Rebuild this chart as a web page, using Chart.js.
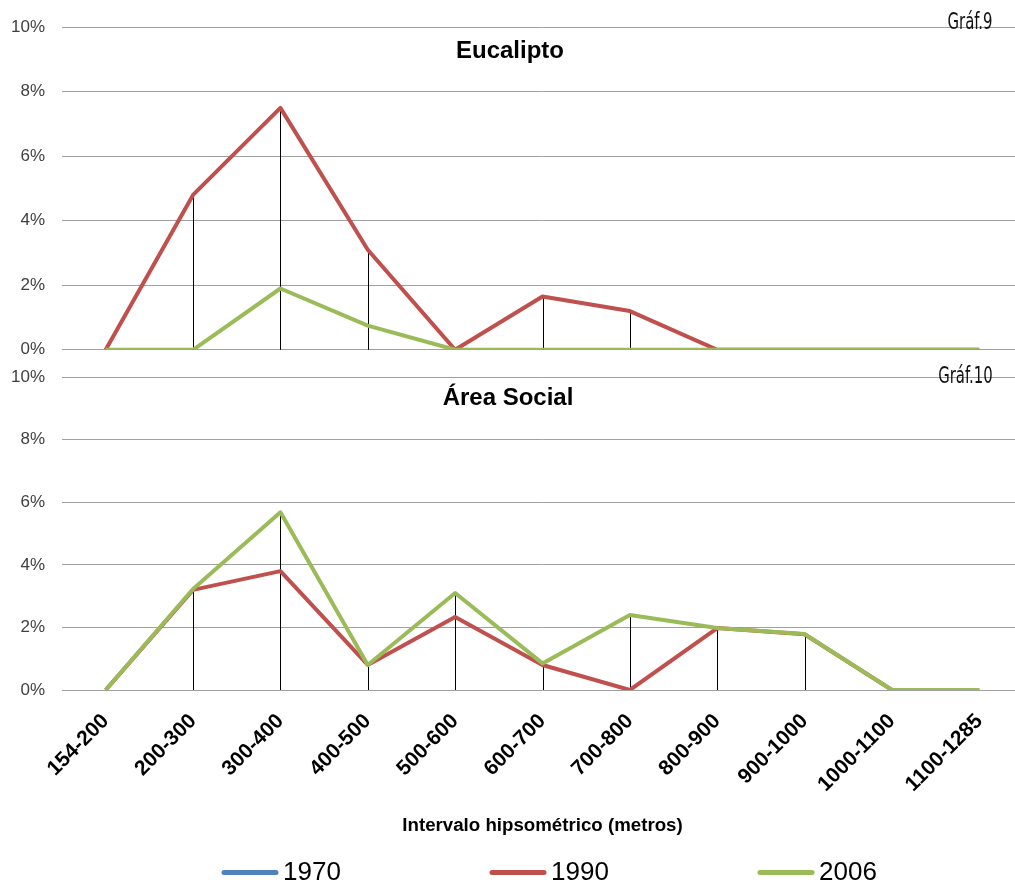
<!DOCTYPE html>
<html>
<head>
<meta charset="utf-8">
<script src="https://cdn.jsdelivr.net/npm/chart.js@4.4.1/dist/chart.umd.min.js"></script>
<style>
  html, body { margin: 0; padding: 0; background: #fff; overflow: hidden; width: 1015px; height: 885px; }
  #wrap { position: relative; width: 1015px; height: 885px; overflow: hidden; }
  canvas { position: absolute; left: 0; }
  #c1 { top: 0; }
  #c2 { top: 350px; }
  .tag {
    position: absolute; font-family: 'Liberation Sans Narrow', 'DejaVu Sans Condensed', sans-serif;
    font-size: 23px; color: #111; transform-origin: right top; transform: scaleX(0.72);
    white-space: nowrap; line-height: 1;
  }
</style>
</head>
<body>
<div id="wrap">
  <canvas id="c1" width="1025" height="377"></canvas>
  <canvas id="c2" width="1025" height="535"></canvas>
  <div class="tag" style="right:22px; top:10px;">Gráf.9</div>
  <div class="tag" style="right:22px; top:364px;">Gráf.10</div>
</div>
<script>
// Altitude classes (metres)
const intervals = ['154-200', '200-300', '300-400', '400-500', '500-600', '600-700',
                   '700-800', '800-900', '900-1000', '1000-1100', '1100-1285'];
const years = ['1970', '1990', '2006'];
const yTicks = [0, 2, 4, 6, 8, 10];

// Eucalipto: share of area (%) per altitude class
const euc1970 = [null, null, null, null, null, null, null, null, null, null, null];
const euc1990 = [0, 4.8, 7.5, 3.1, 0, 1.65, 1.2, 0, 0, 0, 0];
const euc2006 = [0, 0, 1.9, 0.75, 0, 0, 0, 0, 0, 0, 0];

// Área Social: share of area (%) per altitude class
const soc1970 = [null, null, null, null, null, null, null, null, null, null, null];
const soc1990 = [0, 3.2, 3.8, 0.8, 2.33, 0.8, 0, 1.98, 1.78, 0, 0];
const soc2006 = [0, 3.23, 5.68, 0.8, 3.1, 0.85, 2.4, 1.98, 1.79, 0, 0];

const colors = { '1970': '#4F81BD', '1990': '#C0504D', '2006': '#9BBB59' };
const FONT = "'Liberation Sans', Arial, sans-serif";

// Black drop lines from the highest value of each class down to the 0 baseline
const dropLines = {
  id: 'dropLines',
  beforeDatasetsDraw(chart) {
    const { ctx, scales: { x, y } } = chart;
    ctx.save();
    ctx.strokeStyle = '#000';
    ctx.lineWidth = 1;
    chart.data.labels.forEach((_, i) => {
      let top = null;
      chart.data.datasets.forEach(ds => {
        const v = ds.data[i];
        if (v !== null && v !== undefined && (top === null || v > top)) top = v;
      });
      if (top === null || top <= 0) return;
      const px = Math.round(x.getPixelForValue(i)) + 0.5;
      ctx.beginPath();
      ctx.moveTo(px, y.getPixelForValue(top));
      ctx.lineTo(px, y.getPixelForValue(0));
      ctx.stroke();
    });
    ctx.restore();
  }
};

// Bold title drawn inside the plot area, near its top
const innerTitle = {
  id: 'innerTitle',
  afterDatasetsDraw(chart, args, opts) {
    const { ctx, chartArea } = chart;
    ctx.save();
    ctx.font = 'bold 24px ' + FONT;
    ctx.fillStyle = '#000';
    ctx.textAlign = 'center';
    ctx.textBaseline = 'middle';
    ctx.fillText(opts.text, opts.x, chartArea.top + opts.dy);
    ctx.restore();
  }
};

// Widely spaced legend row: a line sample followed by the series name
const wideLegend = {
  id: 'wideLegend',
  afterDraw(chart, args, opts) {
    const { ctx } = chart;
    ctx.save();
    ctx.font = opts.size + 'px ' + FONT;
    ctx.textAlign = 'left';
    ctx.textBaseline = 'middle';
    chart.data.datasets.forEach((ds, k) => {
      const x0 = opts.x + k * opts.step;
      ctx.strokeStyle = ds.borderColor;
      ctx.lineWidth = 5;
      ctx.lineCap = 'round';
      ctx.beginPath();
      ctx.moveTo(x0 + 2, opts.y);
      ctx.lineTo(x0 + opts.len - 2, opts.y);
      ctx.stroke();
      ctx.fillStyle = '#000';
      ctx.fillText(ds.label, x0 + opts.len + 5, opts.y);
    });
    ctx.restore();
  }
};

function makeDatasets(d1970, d1990, d2006) {
  const series = [d1970, d1990, d2006];
  return years.map((yr, k) => ({
    label: yr,
    data: series[k],
    borderColor: colors[yr],
    backgroundColor: colors[yr],
    borderWidth: 4,
    pointRadius: 0,
    tension: 0,
    borderJoinStyle: 'round',
    order: 2 - k
  }));
}

function yScale() {
  return {
    min: 0, max: 10,
    afterBuildTicks: s => { s.ticks = yTicks.map(v => ({ value: v })); },
    ticks: {
      callback: v => v + '%',
      font: { family: FONT, size: 17 },
      color: '#404040',
      padding: 17
    },
    grid: { color: '#a0a0a0', lineWidth: 1, drawTicks: false },
    border: { display: false },
    afterFit: s => { s.width = 62; }
  };
}

new Chart(document.getElementById('c1'), {
  type: 'line',
  data: { labels: intervals, datasets: makeDatasets(euc1970, euc1990, euc2006) },
  options: {
    responsive: false,
    animation: false,
    layout: { padding: { top: 27, bottom: 14, left: 0, right: 2 } },
    scales: {
      x: { display: false, offset: true },
      y: yScale()
    },
    plugins: {
      legend: { display: false },
      tooltip: { enabled: false },
      innerTitle: { text: 'Eucalipto', x: 510, dy: 24 }
    }
  },
  plugins: [dropLines, innerTitle]
});

new Chart(document.getElementById('c2'), {
  type: 'line',
  data: { labels: intervals, datasets: makeDatasets(soc1970, soc1990, soc2006) },
  options: {
    responsive: false,
    animation: false,
    layout: { padding: { top: 15, bottom: 43, left: 0, right: 2 } },
    scales: {
      x: {
        offset: true,
        ticks: {
          minRotation: 45, maxRotation: 45, autoSkip: false,
          font: { family: FONT, size: 21, weight: 'bold' },
          color: '#000', padding: 19
        },
        grid: { display: false, drawTicks: false },
        border: { display: false },
        title: {
          display: true,
          text: 'Intervalo hipsométrico (metros)',
          font: { family: FONT, size: 18.7, weight: 'bold' },
          color: '#000',
          padding: { top: 0, bottom: 5 }
        },
        afterFit: s => { s.height = 152; }
      },
      y: yScale()
    },
    plugins: {
      legend: { display: false },
      tooltip: { enabled: false },
      innerTitle: { text: 'Área Social', x: 508, dy: 21 },
      wideLegend: { x: 222, step: 268, y: 522.5, len: 56, size: 26 }
    }
  },
  plugins: [dropLines, innerTitle, wideLegend]
});
</script>
</body>
</html>
